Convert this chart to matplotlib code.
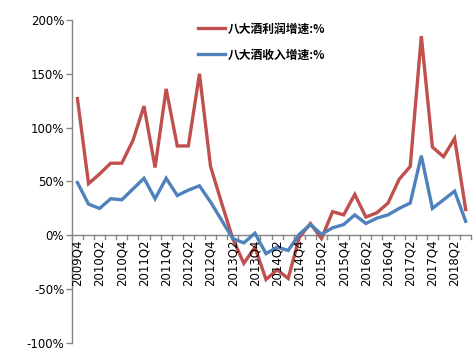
import matplotlib
matplotlib.use("Agg")
import matplotlib.pyplot as plt
from matplotlib.ticker import FuncFormatter

# ── data ──────────────────────────────────────────────────────────────────
quarters = [f"{y}Q{q}" for y in range(2009, 2019) for q in range(1, 5)][3:3 + 36]

profit_growth = [127, 48, 57, 67, 67, 88, 120, 63, 136, 83,
                 83, 150, 64, 30, -3, -26, -11, -41, -32, -40,
                 -2, 11, -3, 22, 19, 38, 17, 21, 30, 52,
                 64, 185, 82, 73, 90, 24]
revenue_growth = [49, 29, 25, 34, 33, 43, 53, 34, 53, 37,
                  42, 46, 31, 14, -3, -7, 2, -17, -11, -14,
                  1, 10, 1, 7, 10, 19, 11, 16, 19, 25,
                  30, 74, 25, 33, 41, 13]

profit_label = "八大酒利润增速:%"
revenue_label = "八大酒收入增速:%"

RED = "#C0504D"
BLUE = "#4F81BD"
AXIS = "#868686"

fig = plt.figure(figsize=(4.76, 3.63), dpi=100, facecolor="white")
ax = fig.add_axes([0.151, 0.055, 0.839, 0.89])

x = list(range(len(quarters)))
l1, = ax.plot(x, profit_growth, color=RED, lw=2.4, solid_joinstyle="miter")
l2, = ax.plot(x, revenue_growth, color=BLUE, lw=2.4, solid_joinstyle="miter")

ax.set_xlim(-0.5, len(quarters) - 0.5)
ax.set_ylim(-100, 200)
ax.set_yticks(range(-100, 201, 50))
ax.yaxis.set_major_formatter(FuncFormatter(lambda v, _: f"{v:.0f}%"))

# spines: left axis + category axis at zero
for s in ("top", "right", "bottom"):
    ax.spines[s].set_visible(False)
ax.spines["left"].set_color(AXIS)
ax.spines["left"].set_linewidth(1.0)
ax.axhline(0, color=AXIS, lw=1.0, zorder=1)

# category ticks between categories, drawn below zero line
for b in [i - 0.5 for i in range(len(quarters) + 1)]:
    ax.plot([b, b], [0, -3.6], color=AXIS, lw=1.0, clip_on=False, zorder=1)
for i in range(0, len(quarters), 2):
    ax.text(i, -3.5, quarters[i], rotation=90, ha="center", va="top",
            fontsize=8.5, color="black", fontfamily="DejaVu Sans")

ax.set_xticks([])
ax.tick_params(axis="y", direction="out", length=4, width=1.0,
               color=AXIS, labelsize=8.5, pad=1.5)

leg = ax.legend([l1, l2], [profit_label, revenue_label],
                loc="upper left", bbox_to_anchor=(0.29, 1.025),
                frameon=False, handlelength=2.3, handletextpad=0.2,
                labelspacing=1.1,
                prop={"family": ["Noto Sans CJK SC", "DejaVu Sans"],
                      "size": 8.5, "weight": "bold"})

fig.savefig("out.png", dpi=100, facecolor="white")
